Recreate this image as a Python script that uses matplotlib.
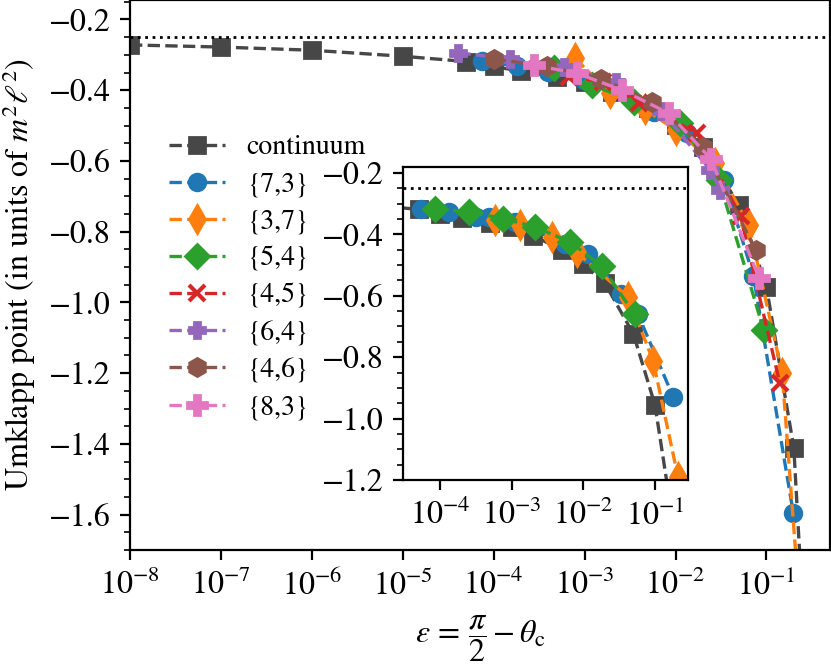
import numpy as np
import matplotlib
matplotlib.use("Agg")
import matplotlib.pyplot as plt
from matplotlib.ticker import LogLocator, NullLocator, MultipleLocator

plt.rcParams['font.family'] = ['STIXGeneral', 'DejaVu Serif']
plt.rcParams['mathtext.fontset'] = 'stix'
plt.rcParams['font.size'] = 10
plt.rcParams['xtick.labelsize'] = 11.5
plt.rcParams['ytick.labelsize'] = 11.5
plt.rcParams['axes.labelsize'] = 11.5

# data (main panel)
cont_x = [1e-8, 1e-7, 1e-6, 1e-5, 5e-5, 1e-4, 2e-4, 5e-4, 1e-3, 2e-3, 5e-3, 1e-2, 2e-2, 5e-2, 1e-1, 2e-1, 2.5e-1]
cont_y = [-0.272, -0.278, -0.287, -0.304, -0.319, -0.333, -0.346, -0.362, -0.377, -0.405, -0.451, -0.498, -0.560, -0.725, -0.956, -1.411, -1.86]

x73 = [7.4e-5, 1.8e-4, 4.0e-4, 9.8e-4, 5.8e-3, 1.34e-2, 3.4e-2, 7.2e-2, 0.197]
y73 = [-0.317, -0.332, -0.348, -0.371, -0.461, -0.522, -0.654, -0.926, -1.594]

x37 = [7.9e-4, 1.9e-3, 4.6e-3, 1.0e-2, 2.7e-2, 6.4e-2, 0.149, 0.25]
y37 = [-0.310, -0.409, -0.454, -0.512, -0.606, -0.780, -1.200, -1.97]

x54 = [4.6e-4, 1.2e-3, 3.5e-3, 1.13e-2, 3.0e-2, 9.3e-2]
y54 = [-0.338, -0.385, -0.432, -0.494, -0.654, -1.077]

x45 = [6.7e-4, 1.6e-3, 4.0e-3, 1.73e-2, 5.2e-2, 0.14]
y45 = [-0.362, -0.376, -0.435, -0.522, -0.757, -1.227]

x64 = [4.1e-5, 1.5e-4, 5.9e-4, 2.2e-3, 7.0e-3, 2.4e-2, 3.1e-2]
y64 = [-0.294, -0.312, -0.334, -0.376, -0.458, -0.625, -0.682]

x46 = [1.0e-4, 3.9e-4, 1.5e-3, 5.5e-3, 2.0e-2, 7.6e-2]
y46 = [-0.312, -0.332, -0.367, -0.432, -0.560, -0.851]

x83 = [2.75e-4, 8.2e-4, 2.6e-3, 8.4e-3, 2.46e-2, 8.3e-2]
y83 = [-0.329, -0.352, -0.400, -0.465, -0.595, -0.931]

# inset series
ix73 = [5.4e-5, 1.3e-4, 3.1e-4, 4.7e-4, 1.1e-3, 5.5e-3, 1.17e-2, 3.4e-2, 5.8e-2, 0.18]
iy73 = [-0.316, -0.327, -0.343, -0.345, -0.360, -0.430, -0.463, -0.593, -0.661, -0.930]

ix37 = [5.8e-4, 1.3e-3, 3.6e-3, 8.0e-3, 4.2e-2, 9.4e-2, 0.21]
iy37 = [-0.354, -0.370, -0.409, -0.458, -0.604, -0.811, -1.190]

ix54 = [8.5e-5, 2.5e-4, 7.6e-4, 2.1e-3, 6.5e-3, 1.8e-2, 5.2e-2]
iy54 = [-0.316, -0.327, -0.349, -0.376, -0.425, -0.504, -0.661]

umklapp_limit = -0.25

gray = '#474747'
series = [
    (cont_x, cont_y, 'continuum', gray, 's', 6),
    (x73, y73, '{7,3}', 'tab:blue', 'o', 6),
    (x37, y37, '{3,7}', 'tab:orange', 'd', 7),
    (x54, y54, '{5,4}', 'tab:green', 'D', 6),
    (x45, y45, '{4,5}', 'tab:red', 'x', 6),
    (x64, y64, '{6,4}', 'tab:purple', 'P', 5.5),
    (x46, y46, '{4,6}', 'tab:brown', 'h', 6.5),
    (x83, y83, '{8,3}', 'tab:pink', 'P', 7),
]
lw = 1.2

fig = plt.figure(figsize=(4.155, 3.34), dpi=200)
ax = fig.add_axes([0.1564, 0.1766, 0.8424, 0.8234])

for xs, ys, lab, col, mk, ms in series:
    mew = 1.5 if mk == 'x' else 1.0
    ax.plot(xs, ys, '--', color=col, marker=mk, ms=ms, mew=mew, lw=lw, label=lab)
ax.axhline(umklapp_limit, color='k', ls=':', lw=1)

ax.set_xscale('log')
ax.set_xlim(1e-8, 0.5)
ax.set_ylim(-1.7, -0.145)
ax.xaxis.set_major_locator(LogLocator(base=10, numticks=12))
ax.xaxis.set_minor_locator(NullLocator())
ax.yaxis.set_major_locator(MultipleLocator(0.2))
ax.yaxis.set_minor_locator(MultipleLocator(0.05))
ax.set_xlabel(r'$\varepsilon\,=\,\dfrac{\pi}{2} - \theta_{\mathrm{c}}$')
ax.set_ylabel(r'Umklapp point (in units of $m^2\ell^2$)')

ax.legend(loc='upper left', bbox_to_anchor=(0.02, 0.80), frameon=False,
          labelspacing=0.42)

# inset
axin = fig.add_axes([0.485, 0.2814, 0.343, 0.469])
axin.plot(cont_x, cont_y, '--', color=gray, marker='s', ms=6, lw=lw)
axin.plot(ix73, iy73, '--', color='tab:blue', marker='o', ms=6, lw=lw)
axin.plot(ix37, iy37, '--', color='tab:orange', marker='d', ms=7, lw=lw)
axin.plot(ix54, iy54, '--', color='tab:green', marker='D', ms=6, lw=lw)
axin.axhline(umklapp_limit, color='k', ls=':', lw=1)
axin.set_xscale('log')
axin.set_xlim(3e-5, 0.29)
axin.set_ylim(-1.2, -0.18)
axin.xaxis.set_major_locator(LogLocator(base=10, numticks=10))
axin.xaxis.set_minor_locator(NullLocator())
axin.yaxis.set_major_locator(MultipleLocator(0.2))
axin.yaxis.set_minor_locator(MultipleLocator(0.05))

fig.savefig('out.png', dpi=200)
